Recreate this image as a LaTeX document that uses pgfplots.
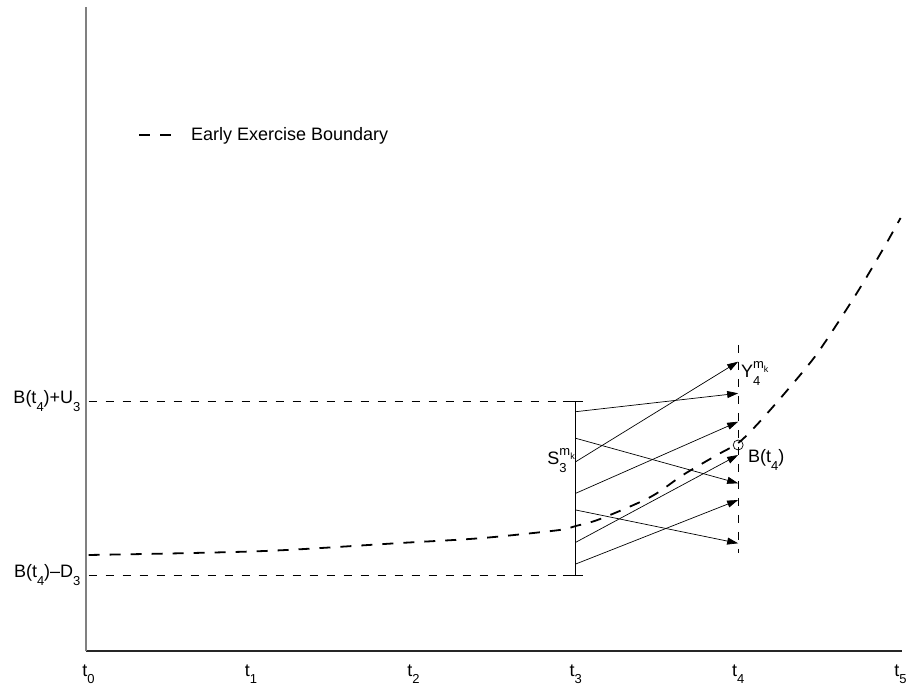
\documentclass[border=0pt]{standalone}
\usepackage{pgfplots}
\pgfplotsset{compat=1.18}
\usepackage{fontspec}
\setmainfont{Liberation Sans}
\usetikzlibrary{arrows.meta}
\newcommand{\sub}[1]{\raisebox{-0.4em}{\fontsize{13}{13}\selectfont #1}}
\newcommand{\mk}{\raisebox{0.5em}{\fontsize{13}{13}\selectfont m\raisebox{-0.3em}{\fontsize{9}{9}\selectfont k}}}
\newcommand{\subsup}[1]{\makebox[0pt][l]{\sub{#1}}\mk}
\begin{document}
\begin{tikzpicture}[font=\fontsize{18}{21}\selectfont]
\useasboundingbox (-86pt,-44pt) rectangle (826pt,651pt);
\begin{axis}[
  at={(0,0)}, anchor=south west,
  scale only axis, width=816pt, height=644pt,
  xmin=-0.016, xmax=5.009, ymin=0, ymax=644,
  axis x line=bottom, axis y line=left,
  x axis line style={-, line width=1.2pt, black!85},
  y axis line style={-, line width=1.6pt, black!50},
  xtick={0,1,2,3,4,5},
  xticklabels={t\sub0, t\sub1, t\sub2, t\sub3, t\sub4, t\sub5},
  ytick={76,250},
  yticklabels={B(t\sub4)--D\sub3, B(t\sub4)+U\sub3},
  major tick length=0pt,
  tick label style={font=\fontsize{18}{21}\selectfont},
  xticklabel style={yshift=-10pt},
  yticklabel style={xshift=-2pt},
  clip=false,
  legend style={at={(axis cs:0.304,516)}, anchor=west, draw=none, fill=none, inner sep=0pt, font=\fontsize{18}{21}\selectfont},
  legend image code/.code={\draw[#1] (0pt,0pt) -- (33pt,0pt); \path[draw=none] (0pt,0pt) -- (50pt,0pt);},
  legend cell align=left,
]
\addplot[black, line width=1.8pt, dash pattern=on 11pt off 10pt, smooth] coordinates {
(0,96) (0.5,97.5) (1.0,99.5) (1.33,102) (1.92,108) (2.3,111.5) (2.53,114.5) (2.9,121) (3.0,125) (3.15,132) (3.46,154) (3.66,176) (3.87,196) (4.0,208) (4.114,226) (4.288,258) (4.471,294) (4.625,331) (4.769,368) (4.914,408) (5.0,433)
};
\addlegendentry{Early Exercise Boundary}
\addplot[black, line width=0.6pt, dash pattern=on 8pt off 9pt, forget plot] coordinates {(0,250) (3.045,250)};
\addplot[black, line width=0.6pt, dash pattern=on 8pt off 9pt, forget plot] coordinates {(0,76) (3.045,76)};
\addplot[black, line width=0.6pt, dash pattern=on 8pt off 9pt, forget plot] coordinates {(4,306) (4,98)};
\addplot[black, line width=0.8pt, forget plot] coordinates {(3,76) (3,250)};
\addplot[black, line width=0.8pt, forget plot] coordinates {(2.92,250) (3.045,250)};
\addplot[black, line width=0.8pt, forget plot] coordinates {(2.92,76) (3.045,76)};
\addplot[black, line width=0.7pt, -{Triangle[length=11pt,width=7pt]}, forget plot] coordinates {(3,239.3) (4,257.7)};
\addplot[black, line width=0.7pt, -{Triangle[length=11pt,width=7pt]}, forget plot] coordinates {(3,212.7) (4,167.7)};
\addplot[black, line width=0.7pt, -{Triangle[length=11pt,width=7pt]}, forget plot] coordinates {(3,189.3) (4,289.3)};
\addplot[black, line width=0.7pt, -{Triangle[length=11pt,width=7pt]}, forget plot] coordinates {(3,157.7) (4,229.3)};
\addplot[black, line width=0.7pt, -{Triangle[length=11pt,width=7pt]}, forget plot] coordinates {(3,141) (4,107.7)};
\addplot[black, line width=0.7pt, -{Triangle[length=11pt,width=7pt]}, forget plot] coordinates {(3,108.7) (4,196)};
\addplot[black, line width=0.7pt, -{Triangle[length=11pt,width=7pt]}, forget plot] coordinates {(3,87) (4,151)};
\addplot[black, only marks, mark=o, mark size=5pt, mark options={line width=0.7pt, fill=white}, forget plot] coordinates {(4,206)};
\node[anchor=base east, inner sep=0pt] at (axis cs:2.995,186) {S\subsup{3}};
\node[anchor=base west, inner sep=0pt] at (axis cs:4.017,273) {Y\subsup{4}};
\node[anchor=base west, inner sep=0pt] at (axis cs:4.06,188) {B(t\sub4)};
\end{axis}
\end{tikzpicture}
\end{document}
